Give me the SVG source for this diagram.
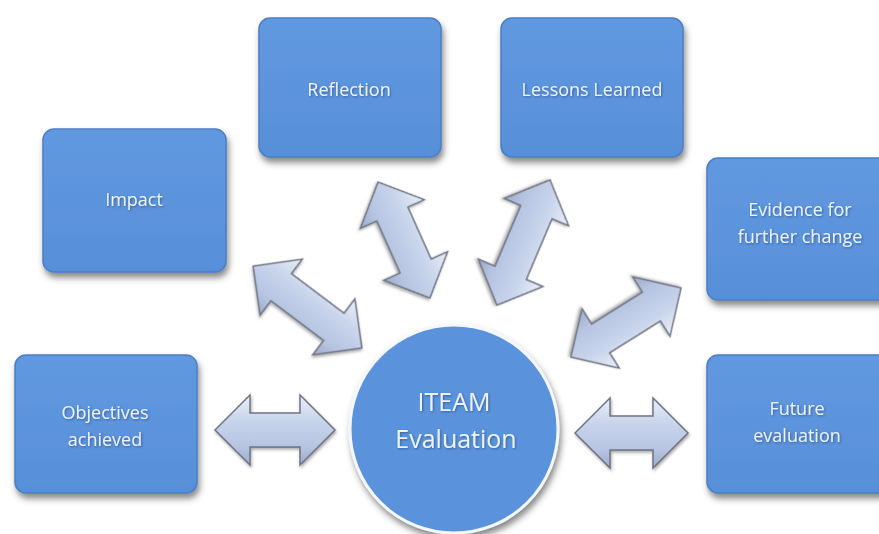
<svg xmlns="http://www.w3.org/2000/svg" width="879" height="534" viewBox="0 0 879 534">
  <defs>
    <linearGradient id="boxFill" x1="0" y1="0" x2="0" y2="1">
      <stop offset="0" stop-color="#6199e0"/>
      <stop offset="1" stop-color="#578fd9"/>
    </linearGradient>
    <linearGradient id="arrowFill" x1="0" y1="0" x2="0" y2="1">
      <stop offset="0" stop-color="#eaeff8"/>
      <stop offset="0.35" stop-color="#c9d5ec"/>
      <stop offset="0.75" stop-color="#b6c4e1"/>
      <stop offset="1" stop-color="#9cabc8"/>
    </linearGradient>
    <filter id="shadow" x="-20%" y="-20%" width="140%" height="150%">
      <feDropShadow dx="2" dy="5" stdDeviation="3" flood-color="#3a3a3a" flood-opacity="0.6"/>
    </filter>
    <filter id="ashadow" x="-20%" y="-40%" width="140%" height="180%">
      <feDropShadow dx="1" dy="2" stdDeviation="1.5" flood-color="#555" flood-opacity="0.5"/>
    </filter>
    <filter id="tshadow" x="-10%" y="-30%" width="120%" height="160%">
      <feDropShadow dx="1" dy="1" stdDeviation="0.8" flood-color="#2a4a7a" flood-opacity="0.7"/>
    </filter>
  </defs>
  <style>
    .box { fill: url(#boxFill); stroke: #4c7fc4; stroke-width: 1.5; filter: url(#shadow); }
    .circ { fill: #5a93dc; stroke: #f4f7fc; stroke-width: 3; filter: url(#shadow); }
    .lbl { font-family: "Open Sans", "Liberation Sans", sans-serif; font-size: 18px; fill: #eaf2fb; text-anchor: middle; filter: url(#tshadow); }
    .big { font-size: 25px; }
    .arrow { fill: url(#arrowFill); stroke: #6e7482; stroke-width: 1.5; stroke-linejoin: miter; filter: url(#ashadow); }
  </style>
  <rect width="879" height="534" fill="#ffffff"/>

  <g id="connectors">
    <path class="arrow" transform="translate(275,430)" d="M -60 0 L -25 -35 L -25 -17 L 25 -17 L 25 -35 L 60 0 L 25 35 L 25 17 L -25 17 L -25 35 Z"/>
    <path class="arrow" transform="translate(631.5,433)" d="M -56.5 0 L -21.5 -35 L -21.5 -17 L 21.5 -17 L 21.5 -35 L 56.5 0 L 21.5 35 L 21.5 17 L -21.5 17 L -21.5 35 Z"/>
    <path class="arrow" transform="translate(307.5,307) rotate(37)" d="M -68 0 L -33 -35 L -33 -17 L 33 -17 L 33 -35 L 68 0 L 33 35 L 33 17 L -33 17 L -33 35 Z"/>
    <path class="arrow" transform="translate(404,240) rotate(65.9)" d="M -63.5 0 L -28.5 -35 L -28.5 -17 L 28.5 -17 L 28.5 -35 L 63.5 0 L 28.5 35 L 28.5 17 L -28.5 17 L -28.5 35 Z"/>
    <path class="arrow" transform="translate(523.5,242.5) rotate(113)" d="M -68 0 L -33 -35 L -33 -17 L 33 -17 L 33 -35 L 68 0 L 33 35 L 33 17 L -33 17 L -33 35 Z"/>
    <path class="arrow" transform="translate(626,322.5) rotate(147.9)" d="M -65 0 L -30 -35 L -30 -17 L 30 -17 L 30 -35 L 65 0 L 30 35 L 30 17 L -30 17 L -30 35 Z"/>
  </g>

  <g id="node-reflection">
    <rect class="box" x="259" y="18" width="182" height="139" rx="11"/>
    <text class="lbl" x="349" y="96">Reflection</text>
  </g>
  <g id="node-lessons">
    <rect class="box" x="501" y="18" width="182" height="139" rx="11"/>
    <text class="lbl" x="592" y="96">Lessons Learned</text>
  </g>
  <g id="node-impact">
    <rect class="box" x="43" y="129" width="183" height="143" rx="11"/>
    <text class="lbl" x="134" y="206">Impact</text>
  </g>
  <g id="node-evidence">
    <rect class="box" x="707" y="158" width="186" height="142" rx="11"/>
    <text class="lbl" x="800" y="216">Evidence for</text>
    <text class="lbl" x="800" y="243">further change</text>
  </g>
  <g id="node-objectives">
    <rect class="box" x="15" y="355" width="182" height="138" rx="11"/>
    <text class="lbl" x="105" y="419">Objectives</text>
    <text class="lbl" x="105" y="446">achieved</text>
  </g>
  <g id="node-future">
    <rect class="box" x="707" y="355" width="186" height="138" rx="11"/>
    <text class="lbl" x="797" y="415">Future</text>
    <text class="lbl" x="797" y="442">evaluation</text>
  </g>
  <g id="node-center">
    <circle class="circ" cx="454" cy="429" r="104"/>
    <text class="lbl big" x="454" y="411">ITEAM</text>
    <text class="lbl big" x="456" y="448">Evaluation</text>
  </g>
</svg>
